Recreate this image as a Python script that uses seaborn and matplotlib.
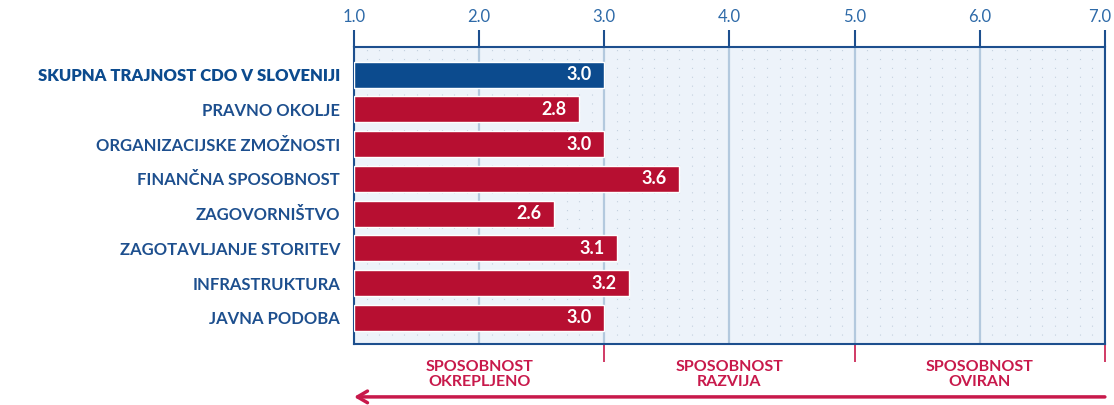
import matplotlib
matplotlib.use("Agg")
import matplotlib.pyplot as plt
import matplotlib.transforms as mtransforms
from matplotlib.ticker import MultipleLocator
import pandas as pd
import seaborn as sns

# --- data ---
CATEGORIES = [
    "SKUPNA TRAJNOST CDO V SLOVENIJI",
    "PRAVNO OKOLJE",
    "ORGANIZACIJSKE ZMOŽNOSTI",
    "FINANČNA SPOSOBNOST",
    "ZAGOVORNIŠTVO",
    "ZAGOTAVLJANJE STORITEV",
    "INFRASTRUKTURA",
    "JAVNA PODOBA",
]
SCORES = [3.0, 2.8, 3.0, 3.6, 2.6, 3.1, 3.2, 3.0]
TICKS = [1.0, 2.0, 3.0, 4.0, 5.0, 6.0, 7.0]
ZONE_EDGES = [3.0, 5.0, 7.0]
ZONE_CENTERS = [2.0, 4.0, 6.0]
ZONE_LABELS = ["SPOSOBNOST\nOKREPLJENO", "SPOSOBNOST\nRAZVIJA", "SPOSOBNOST\nOVIRAN"]

NAVY = "#1d4f8e"
TICK_BLUE = "#2e6aa8"
BAR_BLUE = "#0c4b8e"
BAR_RED = "#b70f31"
PINK = "#c8194b"
BG = "#edf3fa"

sns.set_theme(style="white")
plt.rcParams["font.family"] = ["Lato", "DejaVu Sans"]

df = pd.DataFrame({"cat": CATEGORIES, "score": SCORES})
palette = {c: (BAR_BLUE if i == 0 else BAR_RED) for i, c in enumerate(CATEGORIES)}

fig = plt.figure(figsize=(11.14, 4.05), dpi=100)
ax = fig.add_axes([0.3178, 0.151, 0.674, 0.733])
ax.set_facecolor(BG)

sns.barplot(data=df, x="score", y="cat", hue="cat", palette=palette, orient="h",
            width=0.75, legend=False, ax=ax, zorder=3, saturation=1)

# bars start at 1.0
for patch in ax.patches:
    w = patch.get_width()
    patch.set_x(1.0)
    patch.set_width(w - 1.0)

ax.set_xlim(1.0, 7.0)
ax.set_ylim(7.75, -0.8)

# grids: major vertical lines + dotted pattern
ax.xaxis.set_major_locator(MultipleLocator(1.0))
ax.xaxis.set_minor_locator(MultipleLocator(0.1))
ax.grid(axis="x", which="major", color="#b3c9de", linewidth=1.6, zorder=1)
ax.grid(axis="x", which="minor", color="#c3d0de", linewidth=0.8,
        linestyle=(0, (1, 7)), zorder=0)
ax.set_axisbelow(True)

# value labels
for i, v in enumerate(SCORES):
    ax.text(v - 0.1, i, f"{v:.1f}", color="white", fontsize=13, fontweight="bold",
            ha="right", va="center", zorder=4)

# axes styling
for s in ["top", "left", "right", "bottom"]:
    ax.spines[s].set_color(NAVY)
    ax.spines[s].set_linewidth(1.5)
ax.xaxis.tick_top()
ax.set_xticks(TICKS)
ax.set_xticklabels([f"{t:.1f}" for t in TICKS])
ax.tick_params(axis="x", which="major", direction="out", length=12, width=1.5,
               color=NAVY, labelcolor=TICK_BLUE, labelsize=12, pad=4, top=True, bottom=False)
ax.tick_params(axis="x", which="minor", length=0)
# keep the last label inside the figure
last = ax.get_xticklabels()[-1]
last.set_transform(last.get_transform() + mtransforms.ScaledTranslation(-4 / 72, 0, fig.dpi_scale_trans))
ax.set_xlabel("")
ax.set_ylabel("")
ax.tick_params(axis="y", length=0, pad=10)
for i, lab in enumerate(ax.get_yticklabels()):
    lab.set_color(BAR_BLUE if i == 0 else NAVY)
    lab.set_fontweight("heavy" if i == 0 else "bold")
    lab.set_fontsize(12)

# bottom zone ticks
sec = ax.secondary_xaxis("bottom")
sec.set_xticks(ZONE_EDGES)
sec.set_xticklabels([])
sec.tick_params(direction="out", length=13, width=1.2, color=PINK)
sec.spines["bottom"].set_visible(False)

trans = mtransforms.blended_transform_factory(ax.transData, ax.transAxes)
for xc, lab in zip(ZONE_CENTERS, ZONE_LABELS):
    ax.text(xc, -0.055, lab, transform=trans, ha="center", va="top", color=PINK,
            fontsize=11.5, fontweight="bold", linespacing=1.1)

# arrow pointing left
trans_fig = mtransforms.blended_transform_factory(ax.transData, fig.transFigure)
ax.annotate("", xy=(1.0, 0.02), xytext=(7.0, 0.02), xycoords=trans_fig,
            textcoords=trans_fig,
            arrowprops=dict(arrowstyle="->,head_length=0.6,head_width=0.35",
                            color=PINK, lw=2.5, shrinkA=0, shrinkB=0),
            annotation_clip=False)

fig.savefig("out.png", dpi=100, facecolor="white")
